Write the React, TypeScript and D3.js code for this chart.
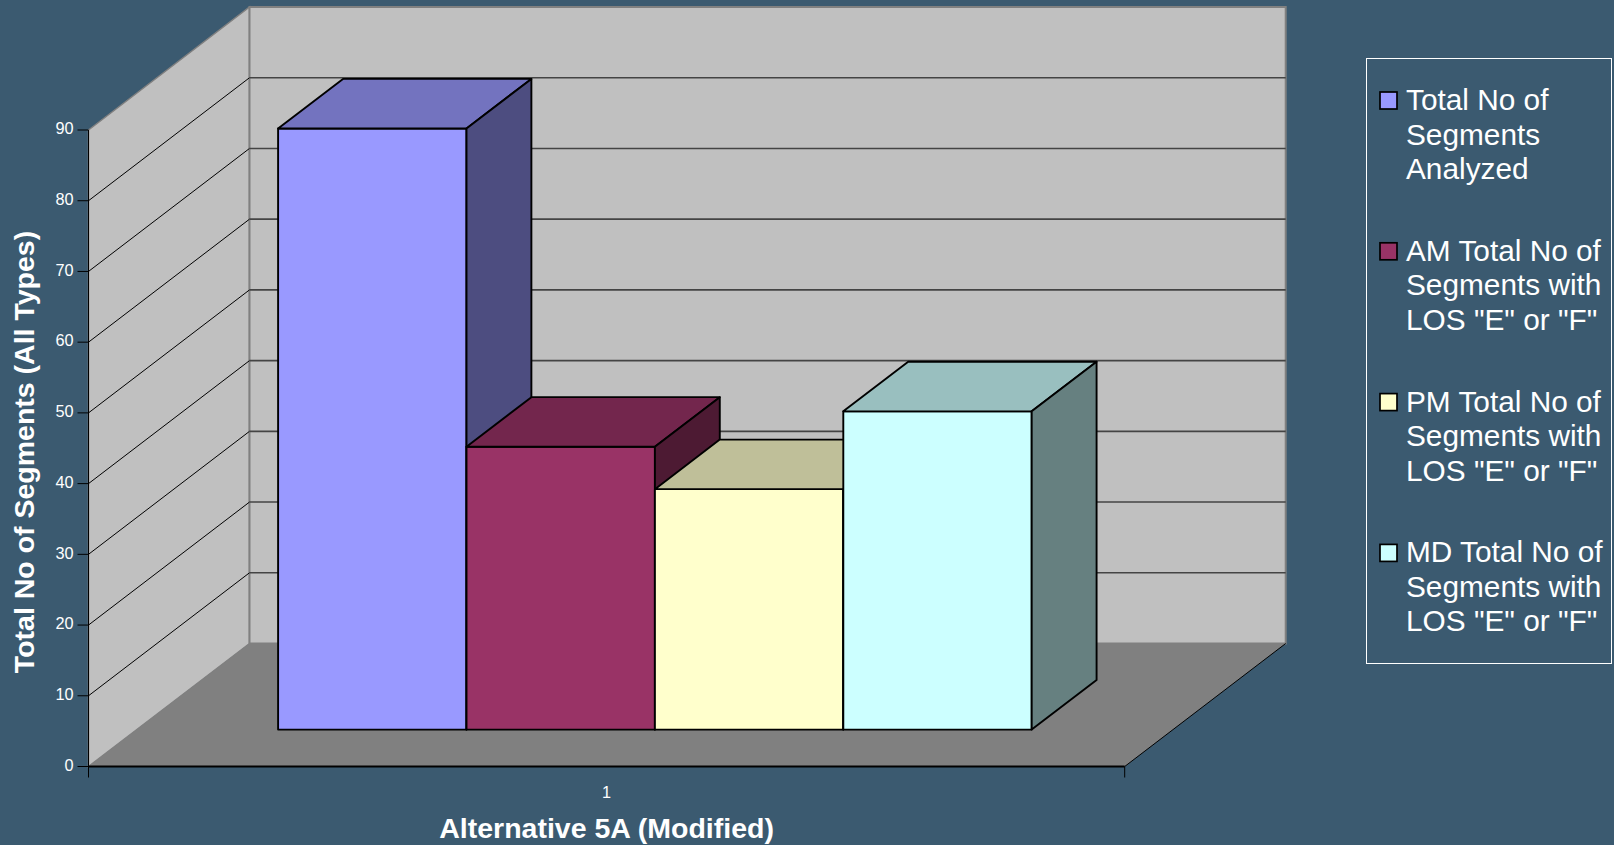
import React from "react";
import * as d3 from "d3";

// Chart content
const category = "1";
const seriesNames = ["Total No of Segments Analyzed", "AM Total No of Segments with LOS \"E\" or \"F\"", "PM Total No of Segments with LOS \"E\" or \"F\"", "MD Total No of Segments with LOS \"E\" or \"F\""];
const seriesValues = [85, 40, 34, 45];
const yTicks = [0, 10, 20, 30, 40, 50, 60, 70, 80, 90];
const legendLines = [
  ["Total No of", "Segments", "Analyzed"],
  ["AM Total No of", "Segments with", "LOS \"E\" or \"F\""],
  ["PM Total No of", "Segments with", "LOS \"E\" or \"F\""],
  ["MD Total No of", "Segments with", "LOS \"E\" or \"F\""],
];
const frontColors = ["#9999FF", "#993366", "#FFFFCC", "#CCFFFF"];
const topColors = ["#7373BF", "#73264D", "#BFBF99", "#99BFBF"];
const sideColors = ["#4D4D80", "#4D1A33", "#808066", "#668080"];

const FONT = "'Liberation Sans', Arial, sans-serif";
const BG = "#3B5A70";

// Oblique projection of the 3D plot box
const y = d3.scaleLinear().domain([0, 90]).range([766.5, 130]);
const band = d3.scaleBand<string>().domain(seriesNames).range([88.5, 1124.7]).paddingInner(0).paddingOuter(0.75);
const depthX = 161;
const depthY = -123;
const barDepthFront = 0.3;
const barDepthBack = 0.703;

const project = (px: number, value: number, depth: number): [number, number] => [px + depth * depthX, y(value) + depth * depthY];
const path = d3.line();
const poly = (pts: [number, number][]) => path(pts) + "Z";

const x0 = band.range()[0];
const x1 = band.range()[1];
const innerTicks = yTicks.filter((t) => t > 0 && t < 90);

export default function App() {
  const bw = band.bandwidth();
  return (
    <svg width={1614} height={845} style={{ position: "fixed", left: 0, top: 0, background: BG, fontFamily: FONT }}>
      {/* Side wall, back wall, floor */}
      <path d={poly([project(x0, 0, 0), project(x0, 90, 0), project(x0, 90, 1), project(x0, 0, 1)])} fill="#C0C0C0" stroke="#808080" strokeWidth={1.5} />
      <path d={poly([project(x0, 0, 1), project(x0, 90, 1), project(x1, 90, 1), project(x1, 0, 1)])} fill="#C0C0C0" stroke="#808080" strokeWidth={2} />
      <path d={poly([project(x0, 0, 0), project(x0, 0, 1), project(x1, 0, 1), project(x1, 0, 0)])} fill="#808080" />
      <path d={path([project(x1, 0, 0), project(x1, 0, 1)])!} fill="none" stroke="#000" strokeWidth={1} />

      {/* Gridlines across the walls */}
      {innerTicks.map((t) => (
        <g key={t}>
          <path d={path([project(x0, t, 0), project(x0, t, 1)])!} fill="none" stroke="#000" strokeWidth={1} />
          <path d={path([project(x0, t, 1), project(x1, t, 1)])!} fill="none" stroke="#444" strokeWidth={1.6} />
        </g>
      ))}

      {/* Bars, left to right */}
      {seriesNames.map((name, i) => {
        const l = band(name)!;
        const r = l + bw;
        const v = seriesValues[i];
        // bars rise from the floor at their own depth
        return (
          <g key={name} stroke="#000" strokeWidth={1.9} strokeLinejoin="round">
            <path d={poly([project(l, 0, barDepthFront), project(l, v, barDepthFront), project(r, v, barDepthFront), project(r, 0, barDepthFront)])} fill={frontColors[i]} />
            <path d={poly([project(l, v, barDepthFront), project(l, v, barDepthBack), project(r, v, barDepthBack), project(r, v, barDepthFront)])} fill={topColors[i]} />
            <path d={poly([project(r, 0, barDepthFront), project(r, v, barDepthFront), project(r, v, barDepthBack), project(r, 0, barDepthBack)])} fill={sideColors[i]} />
          </g>
        );
      })}

      {/* Axes */}
      <path d={`M${x0},${y(90)}V${y(0) + 11}`} stroke="#000" fill="none" strokeWidth={1} />
      <path d={`M${x0},${y(0)}H${x1}`} stroke="#000" fill="none" strokeWidth={1.9} />
      <path d={`M${x1},${y(0)}V${y(0) + 11}`} stroke="#000" fill="none" strokeWidth={1} />
      {yTicks.map((t) => (
        <g key={t}>
          <path d={`M${x0 - 11},${y(t)}H${x0}`} stroke="#000" strokeWidth={1} />
          <text x={x0 - 15} y={y(t)} dy="0.26em" textAnchor="end" fontSize={16.3} fill="#fff">{t}</text>
        </g>
      ))}
      <text x={(x0 + x1) / 2} y={y(0) + 31} textAnchor="middle" fontSize={16.3} fill="#fff">{category}</text>

      {/* Axis titles */}
      <text x={(x0 + x1) / 2} y={838} textAnchor="middle" fontSize={28.5} fontWeight="bold" fill="#fff">Alternative 5A (Modified)</text>
      <text transform="translate(34,452) rotate(-90)" textAnchor="middle" fontSize={28.5} fontWeight="bold" fill="#fff">Total No of Segments (All Types)</text>

      {/* Legend */}
      <rect x={1366.5} y={58.5} width={245} height={605} fill="none" stroke="#fff" strokeWidth={1} />
      {legendLines.map((lines, i) => {
        const top = 100 + i * 150.8;
        return (
          <g key={i}>
            <rect x={1380} y={top - 8} width={17} height={17} fill={frontColors[i]} stroke="#000" strokeWidth={1.7} />
            {lines.map((ln, j) => (
              <text key={j} x={1406} y={top + 10 + j * 34.5} fontSize={29.8} fill="#fff">{ln}</text>
            ))}
          </g>
        );
      })}
    </svg>
  );
}
